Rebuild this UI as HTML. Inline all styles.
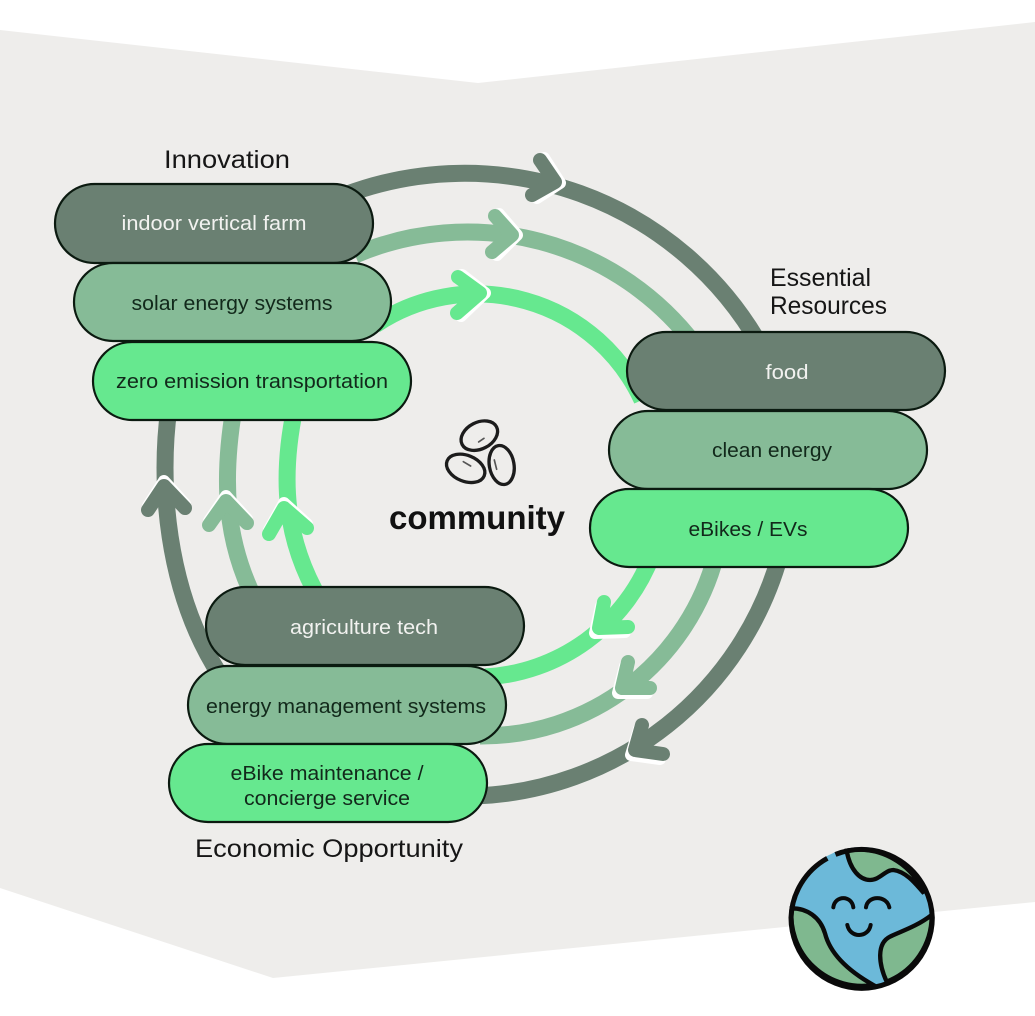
<!DOCTYPE html>
<html><head><meta charset="utf-8"><style>
html,body{margin:0;padding:0;background:#fff}
svg{display:block}
text{font-family:"Liberation Sans",sans-serif}
.a{fill:none;stroke-width:17}
.c{fill:none;stroke-width:14;stroke-linecap:round;stroke-linejoin:round}
.w{stroke:#fff;stroke-width:12}
.p{stroke:#0b1a10;stroke-width:2.2}
.t{font-size:20px;text-anchor:middle;fill:#12291b}
.l{font-size:25px;fill:#161616}
</style></head><body>
<svg width="1035" height="1016" viewBox="0 0 1035 1016" xmlns="http://www.w3.org/2000/svg">
<rect width="1035" height="1016" fill="#fff"/>
<polygon points="0,30 478,83 1035,22 1035,902 273,978 0,888" fill="#eeedeb"/>

<!-- top arcs -->
<path class="a" stroke="#6a8072" d="M345,195 A340,340 0 0 1 760,345"/>
<path class="a" stroke="#86bb97" d="M355,255 A286,286 0 0 1 695,345"/>
<path class="a" stroke="#66e88f" d="M375,325 A182,182 0 0 1 642,400"/>
<!-- bottom arcs -->
<path class="a" stroke="#6a8072" d="M780,555 A329,329 0 0 1 475,796"/>
<path class="a" stroke="#86bb97" d="M716,555 A242,242 0 0 1 480,736"/>
<path class="a" stroke="#66e88f" d="M652,555 A190,190 0 0 1 485,677"/>
<!-- left arcs -->
<path class="a" stroke="#6a8072" d="M169,408 C159,480 165,590 220,675"/>
<path class="a" stroke="#86bb97" d="M234,408 C222,480 225,540 255,600"/>
<path class="a" stroke="#66e88f" d="M295,408 C280,480 285,540 320,600"/>

<!-- chevrons: top -->
<path class="c w" d="M544,158 L560,183 L537,198"/>
<path class="c" stroke="#6a8072" d="M540,160 L555,182 L532,195"/>
<path class="c w" d="M499,214 L517,235 L497,255"/>
<path class="c" stroke="#86bb97" d="M495,216 L512,235 L492,252"/>
<path class="c w" d="M462,275 L485,293 L461,316"/>
<path class="c" stroke="#66e88f" d="M458,277 L480,293 L457,313"/>
<!-- chevrons: bottom -->
<path class="c w" d="M601,606 L595,633 L625,632"/>
<path class="c" stroke="#66e88f" d="M604,602 L599,628 L628,627"/>
<path class="c w" d="M625,666 L618,693 L647,693"/>
<path class="c" stroke="#86bb97" d="M628,662 L622,688 L650,688"/>
<path class="c w" d="M639,729 L631,755 L660,759"/>
<path class="c" stroke="#6a8072" d="M642,725 L635,750 L663,754"/>
<!-- chevrons: left -->
<path class="c w" d="M148,506 L164,481 L185,504"/>
<path class="c" stroke="#6a8072" d="M148,510 L164,486 L185,508"/>
<path class="c w" d="M209,521 L226,496 L247,519"/>
<path class="c" stroke="#86bb97" d="M209,525 L226,501 L247,523"/>
<path class="c w" d="M269,530 L284,503 L307,524"/>
<path class="c" stroke="#66e88f" d="M269,534 L284,508 L307,528"/>

<!-- pills -->
<rect class="p" x="55" y="184" width="318" height="79" rx="39.5" fill="#6a8072"/>
<rect class="p" x="74" y="263" width="317" height="78" rx="39" fill="#86bb97"/>
<rect class="p" x="93" y="342" width="318" height="78" rx="39" fill="#66e88f"/>
<rect class="p" x="627" y="332" width="318" height="78" rx="39" fill="#6a8072"/>
<rect class="p" x="609" y="411" width="318" height="78" rx="39" fill="#86bb97"/>
<rect class="p" x="590" y="489" width="318" height="78" rx="39" fill="#66e88f"/>
<rect class="p" x="206" y="587" width="318" height="78" rx="39" fill="#6a8072"/>
<rect class="p" x="188" y="666" width="318" height="78" rx="39" fill="#86bb97"/>
<rect class="p" x="169" y="744" width="318" height="78" rx="39" fill="#66e88f"/>

<text class="t" style="fill:#f2f2f0" x="214" y="230" textLength="185" lengthAdjust="spacingAndGlyphs">indoor vertical farm</text>
<text class="t" x="232" y="310" textLength="201" lengthAdjust="spacingAndGlyphs">solar energy systems</text>
<text class="t" x="252" y="388" textLength="272" lengthAdjust="spacingAndGlyphs">zero emission transportation</text>
<text class="t" style="fill:#f2f2f0" x="787" y="379" textLength="43" lengthAdjust="spacingAndGlyphs">food</text>
<text class="t" x="772" y="457" textLength="120" lengthAdjust="spacingAndGlyphs">clean energy</text>
<text class="t" x="748" y="536" textLength="119" lengthAdjust="spacingAndGlyphs">eBikes / EVs</text>
<text class="t" style="fill:#f2f2f0" x="364" y="634" textLength="148" lengthAdjust="spacingAndGlyphs">agriculture tech</text>
<text class="t" x="346" y="713" textLength="280" lengthAdjust="spacingAndGlyphs">energy management systems</text>
<text class="t" x="327" y="780" textLength="193" lengthAdjust="spacingAndGlyphs">eBike maintenance /</text>
<text class="t" x="327" y="805" textLength="166" lengthAdjust="spacingAndGlyphs">concierge service</text>

<text class="l" x="164" y="168" textLength="126" lengthAdjust="spacingAndGlyphs">Innovation</text>
<text class="l" x="770" y="286" textLength="101" lengthAdjust="spacingAndGlyphs">Essential</text>
<text class="l" x="770" y="314" textLength="117" lengthAdjust="spacingAndGlyphs">Resources</text>
<text class="l" x="195" y="857" textLength="268" lengthAdjust="spacingAndGlyphs">Economic Opportunity</text>
<text x="389" y="529" font-size="33" font-weight="700" fill="#111" textLength="176" lengthAdjust="spacingAndGlyphs">community</text>

<!-- beans -->
<g transform="translate(380,400) scale(.3333)" fill="none" stroke="#1c1c1c" stroke-width="10" stroke-linecap="round">
<ellipse cx="298" cy="107" rx="58" ry="40" transform="rotate(-27 298 107)"/>
<ellipse cx="257" cy="205" rx="60" ry="39" transform="rotate(22 257 205)"/>
<ellipse cx="365" cy="195" rx="37" ry="59" transform="rotate(-10 365 195)"/>
<path d="M296,126 L312,115" stroke-width="5" stroke="#555"/>
<path d="M250,185 L272,198" stroke-width="5" stroke="#555"/>
<path d="M343,180 L350,208" stroke-width="5" stroke="#555"/>
</g>

<!-- globe -->
<g transform="translate(770,830) scale(.3333)">
<circle cx="275" cy="263" r="212" fill="#6cb9d9"/>
<path d="M230,62 C240,120 270,150 300,150 C330,150 345,120 370,120 C410,125 440,165 462,190 A212,212 0 0 0 230,62Z" fill="#7fb88f" stroke="#0a0a0a" stroke-width="13"/>
<path d="M65,235 C110,235 150,260 165,310 C180,370 230,420 310,465 A212,212 0 0 1 65,235Z" fill="#7fb88f" stroke="#0a0a0a" stroke-width="13"/>
<path d="M485,255 C440,290 390,305 360,320 C320,340 325,400 350,455 A212,212 0 0 0 485,255Z" fill="#7fb88f" stroke="#0a0a0a" stroke-width="13"/>
<path d="M172,85 A212,212 0 0 0 63,263 A212,212 0 0 0 487,263 A212,212 0 0 0 172,85" fill="none" stroke="#0a0a0a" stroke-width="15" stroke-dasharray="1290 40" />
<g fill="none" stroke="#0a0a0a" stroke-width="12" stroke-linecap="round">
<path d="M190,232 C195,195 245,195 250,232"/>
<path d="M288,232 C293,195 350,195 358,232"/>
<path d="M232,285 C240,325 295,325 302,285"/>
</g>
</g>
</svg>
</body></html>
